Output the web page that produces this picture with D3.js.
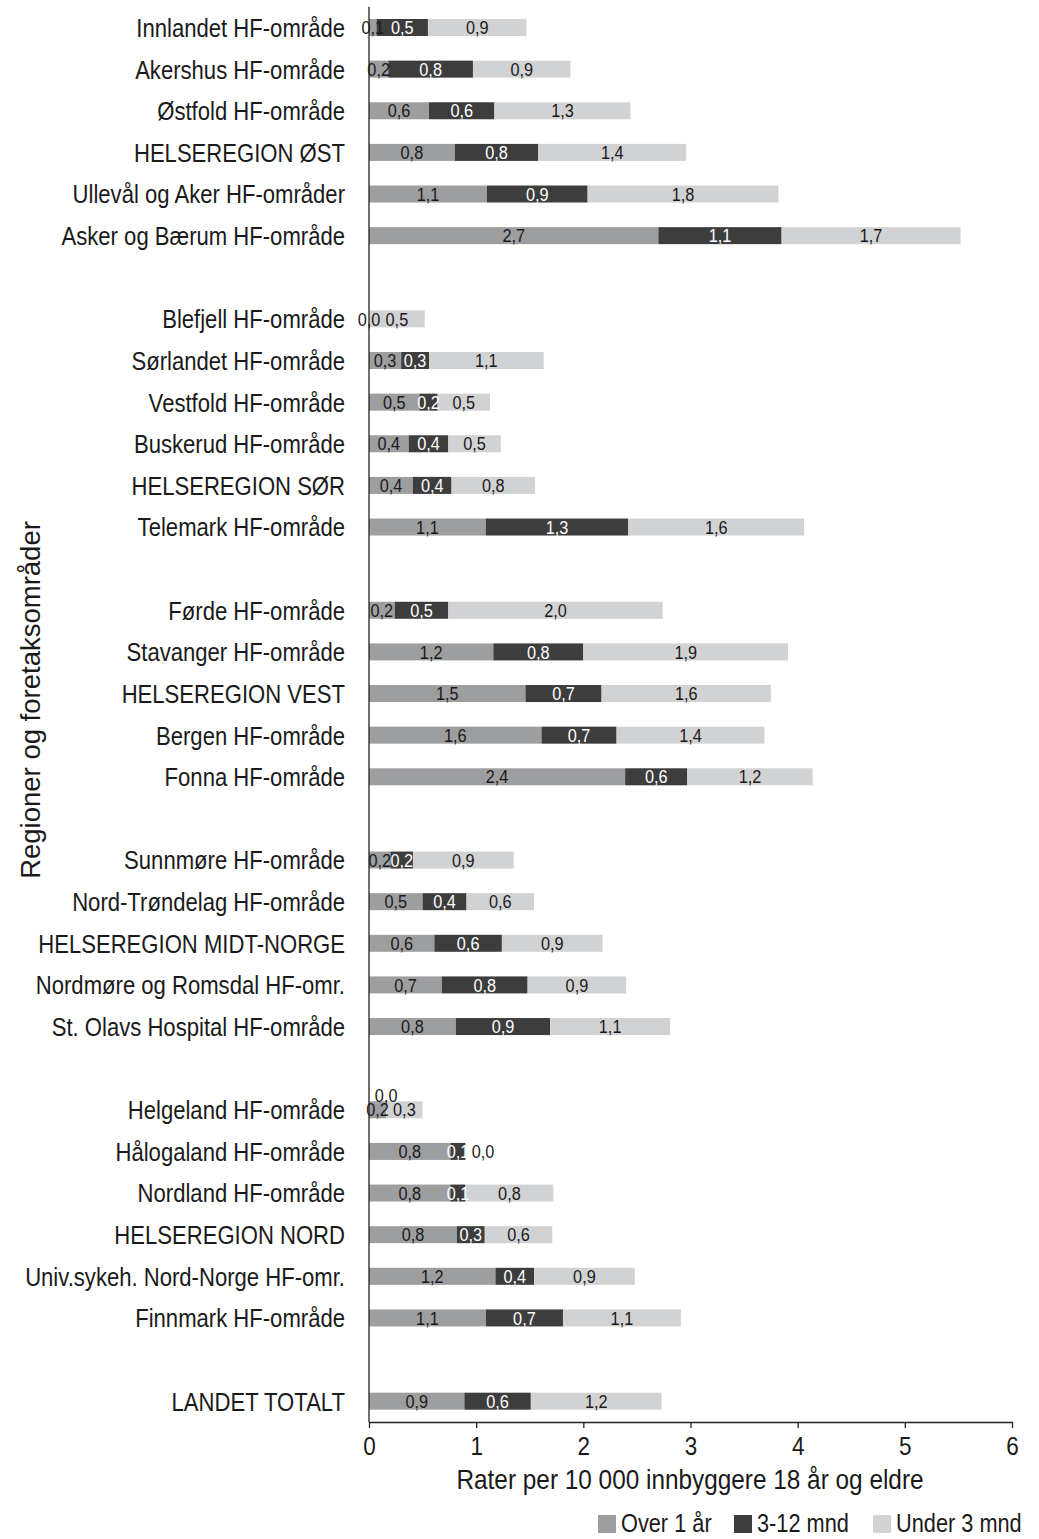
<!DOCTYPE html>
<html>
<head>
<meta charset="utf-8">
<script src="https://cdn.jsdelivr.net/npm/d3@7"></script>
<style>
  html, body { margin: 0; padding: 0; background: #fff; }
  svg { display: block; font-family: "Liberation Sans", Arial, sans-serif; }
</style>
</head>
<body>
<svg id="chart" width="1039" height="1539"></svg>
<script>
// ---- DATA ----
const categories = [
  "Innlandet HF-område", "Akershus HF-område", "Østfold HF-område", "HELSEREGION ØST",
  "Ullevål og Aker HF-områder", "Asker og Bærum HF-område", null,
  "Blefjell HF-område", "Sørlandet HF-område", "Vestfold HF-område", "Buskerud HF-område",
  "HELSEREGION SØR", "Telemark HF-område", null,
  "Førde HF-område", "Stavanger HF-område", "HELSEREGION VEST", "Bergen HF-område", "Fonna HF-område", null,
  "Sunnmøre HF-område", "Nord-Trøndelag HF-område", "HELSEREGION MIDT-NORGE",
  "Nordmøre og Romsdal HF-omr.", "St. Olavs Hospital HF-område", null,
  "Helgeland HF-område", "Hålogaland HF-område", "Nordland HF-område", "HELSEREGION NORD",
  "Univ.sykeh. Nord-Norge HF-omr.", "Finnmark HF-område", null,
  "LANDET TOTALT"
];
const seriesNames = ["Over 1 år", "3-12 mnd", "Under 3 mnd"];
const over1 = [0.07, 0.18, 0.56, 0.80, 1.10, 2.70, null,
  0.0, 0.30, 0.47, 0.37, 0.41, 1.09, null,
  0.24, 1.16, 1.46, 1.61, 2.39, null,
  0.20, 0.50, 0.61, 0.68, 0.81, null,
  0.16, 0.76, 0.76, 0.82, 1.18, 1.09, null,
  0.89];
const mnd3to12 = [0.48, 0.79, 0.61, 0.78, 0.94, 1.15, null,
  null, 0.26, 0.17, 0.37, 0.36, 1.33, null,
  0.50, 0.84, 0.71, 0.70, 0.58, null,
  0.21, 0.41, 0.63, 0.80, 0.88, null,
  0.0, 0.14, 0.14, 0.26, 0.36, 0.72, null,
  0.62];
const under3 = [0.92, 0.91, 1.27, 1.38, 1.78, 1.67, null,
  0.52, 1.07, 0.49, 0.49, 0.78, 1.64, null,
  2.00, 1.91, 1.58, 1.38, 1.17, null,
  0.94, 0.63, 0.94, 0.92, 1.12, null,
  0.34, 0.0, 0.82, 0.63, 0.94, 1.10, null,
  1.22];
const xTicks = [0, 1, 2, 3, 4, 5, 6];
const xTitle = "Rater per 10 000 innbyggere 18 år og eldre";
const yTitle = "Regioner og foretaksområder";

// ---- CHART ----
const colors = ["#9d9ea0", "#3d3d3d", "#d1d2d4"];
const textColor = "#1a1a1a";
const svg = d3.select("#chart");

// condensed-looking text helper (real text, horizontally scaled)
function addText(parent, x, y, str, size, sx, anchor, fill, rotate) {
  return parent.append("text")
    .attr("transform", `translate(${x},${y})` + (rotate ? ` rotate(${rotate})` : "") + ` scale(${sx},1)`)
    .attr("dy", "0.36em")
    .attr("text-anchor", anchor)
    .attr("font-size", size)
    .attr("fill", fill)
    .text(str);
}

const x = d3.scaleLinear().domain([0, 6]).range([369, 1012]);
const y = d3.scaleBand().domain(d3.range(categories.length)).range([6.7, 1422]).padding(0);
const barH = 17;

const series = [over1, mnd3to12, under3];

const g = svg.append("g");
const gl = svg.append("g");
categories.forEach((cat, i) => {
  if (cat === null) return;
  const cy = y(i) + y.bandwidth() / 2;
  let cum = 0;
  const labels = [];
  series.forEach((arr, s) => {
    const v = arr[i];
    if (v === null || v === undefined) return;
    const x0 = cum, x1 = cum + v;
    cum = x1;
    if (v > 0) {
      g.append("rect")
        .attr("x", x(x0)).attr("y", cy - barH / 2)
        .attr("width", x(x1) - x(x0)).attr("height", barH)
        .attr("fill", colors[s]);
    }
    labels.push({ s, v, cx: (x(x0) + x(x1)) / 2, dy: 0 });
  });
  // simple collision handling between neighbouring labels
  for (let k = 1; k < labels.length; k++) {
    const prev = labels[k - 1], cur = labels[k];
    if (cur.cx - prev.cx < 20 && cur.dy === 0 && prev.dy === 0) {
      if (cur.s === 2) cur.cx = prev.cx + 25;
      else cur.dy = -14;
    }
  }
  labels.forEach(l => {
    addText(gl, l.cx, cy + l.dy, d3.format(".1f")(l.v).replace(".", ","), 18.5, 0.88, "middle",
      (l.s === 1 && l.v > 0) ? "#ffffff" : textColor);
  });
  addText(svg, 345, cy, cat, 26, 0.85, "end", textColor);
});

// y axis line
svg.append("line")
  .attr("x1", 369).attr("x2", 369)
  .attr("y1", y.range()[0]).attr("y2", y.range()[1])
  .attr("stroke", "#222").attr("stroke-width", 1.3);

// x axis
const xAxis = d3.axisBottom(x).tickValues(xTicks).tickSize(6).tickSizeOuter(0).tickFormat(d3.format("d"));
const ax = svg.append("g").attr("transform", `translate(0,${y.range()[1]})`).call(xAxis);
ax.select(".domain").attr("stroke", "#222").attr("stroke-width", 1.3);
ax.selectAll(".tick line").attr("stroke", "#222").attr("stroke-width", 1.3);
ax.selectAll(".tick text")
  .attr("font-family", "Liberation Sans, Arial, sans-serif")
  .attr("font-size", 25).attr("fill", textColor)
  .attr("y", 0)
  .attr("transform", "translate(0,24) scale(0.9,1)")
  .attr("dy", "0.36em");

// axis titles
addText(svg, 690, 1479, xTitle, 28, 0.87, "middle", textColor);
addText(svg, 30, 700, yTitle, 27.5, 1, "middle", textColor, -90);

// legend
const legendX = [598, 734, 873];
seriesNames.forEach((name, s) => {
  svg.append("rect").attr("x", legendX[s]).attr("y", 1515).attr("width", 18).attr("height", 18).attr("fill", colors[s]);
  addText(svg, legendX[s] + 23, 1523, name, 25, 0.87, "start", textColor);
});
</script>
</body>
</html>
